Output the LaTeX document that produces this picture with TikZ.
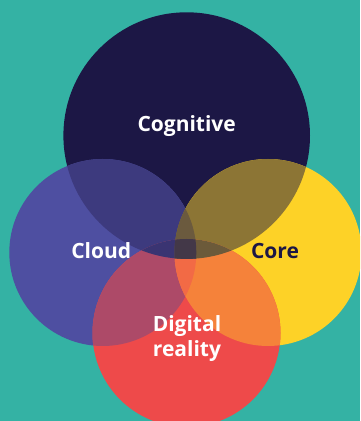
\documentclass[tikz,border=0pt]{standalone}
\usepackage{fontspec}
\setmainfont{Open Sans}

% circle colours
\definecolor{bgteal}{HTML}{34B2A4}
\definecolor{cognavy}{HTML}{1C1745}
\definecolor{cloudblue}{HTML}{4E4FA1}
\definecolor{coreyellow}{HTML}{FDD227}
\definecolor{digitalred}{HTML}{EE4A4A}
% overlap colours
\definecolor{cogcloud}{HTML}{3D3A7E}
\definecolor{cogcore}{HTML}{8C7535}
\definecolor{clouddigital}{HTML}{AD4A68}
\definecolor{coredigital}{HTML}{F5823A}
\definecolor{cogcloudcore}{HTML}{6B5A3E}
\definecolor{cloudcoredigital}{HTML}{F26A45}
\definecolor{cogclouddigital}{HTML}{3A3472}
\definecolor{cogcoredigital}{HTML}{6C5A3A}
\definecolor{allfour}{HTML}{433848}

% circle paths
\def\cogpath{(186.7,285.4) circle (123.3)}
\def\cloudpath{(102.8,168.5) circle (93.5)}
\def\corepath{(268,168.5) circle (93.5)}
\def\digitalpath{(186.5,88) circle (94)}

\tikzset{venntext/.style={font=\fontsize{21}{25}\selectfont\bfseries, align=center, anchor=base, inner sep=0pt}}

\begin{document}
\begin{tikzpicture}[x=1pt,y=1pt]
    % Background
    \useasboundingbox (0,0) rectangle (360,421);
    \clip (0,0) rectangle (360,421);
    \fill[bgteal] (0,0) rectangle (360,421);

    % Draw the four circles
    \fill[cognavy] \cogpath;
    \fill[cloudblue] \cloudpath;
    \fill[coreyellow] \corepath;
    \fill[digitalred] \digitalpath;

    % Two-way overlaps
    \begin{scope}
        \clip \cogpath;
        \fill[cogcloud] \cloudpath;
        \fill[cogcore] \corepath;
    \end{scope}
    \begin{scope}
        \clip \digitalpath;
        \fill[clouddigital] \cloudpath;
        \fill[coredigital] \corepath;
    \end{scope}

    % Three-way overlaps
    \begin{scope}
        \clip \cloudpath;
        \clip \corepath;
        \fill[cogcloudcore] \cogpath;
        \fill[cloudcoredigital] \digitalpath;
    \end{scope}
    \begin{scope}
        \clip \cogpath;
        \clip \digitalpath;
        \fill[cogclouddigital] \cloudpath;
        \fill[cogcoredigital] \corepath;
    \end{scope}

    % All four
    \begin{scope}
        \clip \cogpath;
        \clip \digitalpath;
        \clip \cloudpath;
        \fill[allfour] \corepath;
    \end{scope}

    % Labels
    \node[venntext, text=white] (cognitive) at (186.7,289.5) {Cognitive};
    \node[venntext, text=white] (cloud) at (101.2,162.7) {Cloud};
    \node[venntext, text=cognavy] (core) at (275,162.7) {Core};
    \node[venntext, text=white] (digital) at (187,64.3) {Digital\\reality};
\end{tikzpicture}
\end{document}
